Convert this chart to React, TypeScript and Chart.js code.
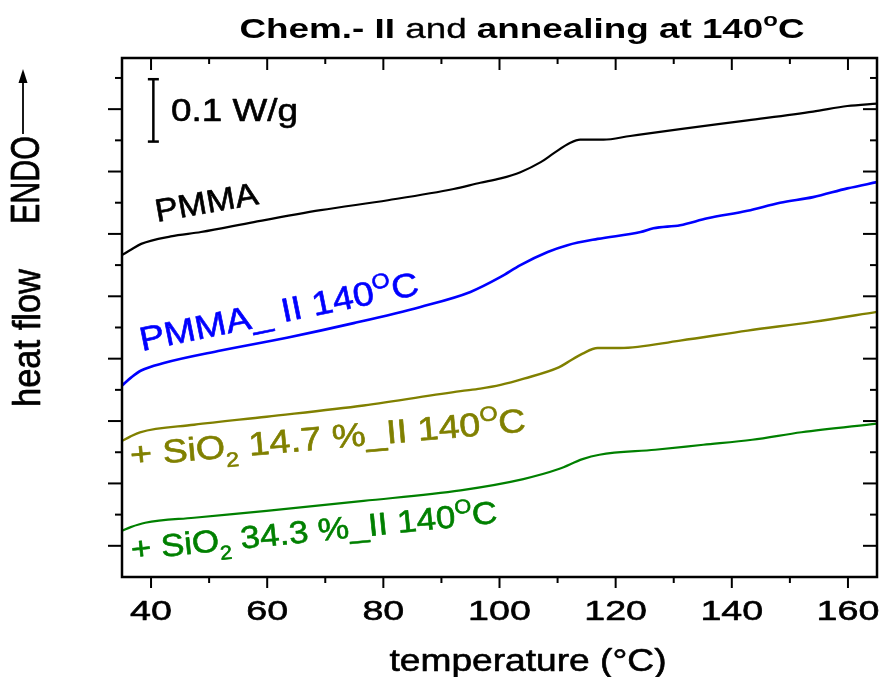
import { useEffect, useRef } from "react";
import { Chart, registerables } from "chart.js";

Chart.register(...registerables);

// DSC heat-flow traces (temperature in °C, heat flow in W/g, curves offset for clarity)
const pmmaTemp = [35, 36.6, 38.3, 43.4, 48.6, 57.7, 69.2, 80.8, 92.1, 96.7, 100.2, 103.6, 107.1, 109.3, 112.2, 113.9, 117.9, 122.5, 131.1, 142.7, 154.0, 159.9, 165];
const pmmaFlow = [0.466, 0.475, 0.484, 0.496, 0.503, 0.519, 0.538, 0.554, 0.572, 0.582, 0.589, 0.599, 0.615, 0.629, 0.646, 0.651, 0.651, 0.657, 0.668, 0.682, 0.696, 0.705, 0.709];

const pmmaIITemp = [35, 36.6, 38.3, 42.2, 52.0, 63.6, 74.9, 86.4, 95.0, 100.2, 103.6, 108.3, 111.7, 116.9, 124.3, 126.5, 131.1, 135.8, 142.7, 148.3, 154.0, 159.9, 165];
const pmmaIIFlow = [0.257, 0.270, 0.281, 0.293, 0.313, 0.334, 0.357, 0.383, 0.407, 0.431, 0.450, 0.471, 0.482, 0.492, 0.503, 0.509, 0.514, 0.525, 0.537, 0.550, 0.559, 0.573, 0.583];

const silica147Temp = [35, 36.4, 38.1, 47.4, 59.9, 76.6, 93.3, 96.7, 100.2, 104.2, 110.2, 111.7, 114.3, 116.9, 120.8, 131.1, 142.7, 154.0, 165];
const silica147Flow = [0.168, 0.175, 0.182, 0.194, 0.207, 0.225, 0.248, 0.252, 0.258, 0.268, 0.286, 0.294, 0.308, 0.317, 0.317, 0.329, 0.345, 0.359, 0.375];

const silica343Temp = [35, 36.5, 39.0, 47.4, 59.9, 76.6, 93.3, 104.1, 110.2, 114.3, 117.2, 126.8, 135.1, 143.5, 152.0, 165];
const silica343Flow = [0.024, 0.030, 0.037, 0.045, 0.056, 0.072, 0.089, 0.107, 0.123, 0.139, 0.146, 0.154, 0.162, 0.170, 0.182, 0.196];

const xMajorTicks = [40, 60, 80, 100, 120, 140, 160];
const xMinorTicks = [50, 70, 90, 110, 130, 150];
const xTickLabels = ["40", "60", "80", "100", "120", "140", "160"];
const yMajorTicks = [0, 0.1, 0.2, 0.3, 0.4, 0.5, 0.6, 0.7];
const yMinorTicks = [0.05, 0.15, 0.25, 0.35, 0.45, 0.55, 0.65, 0.75];

const scaleBarValue = 0.1; // W/g
const scaleBarTop = 0.748;
const scaleBarTemp = 40.4;

const seriesColors = ["#000000", "#0000ff", "#808000", "#008000"];

const FAMILY = '"Liberation Sans", Arial, sans-serif';

type Run = { text: string; bold?: boolean; scale?: number; rise?: number };

type TextOpts = {
  size: number;
  angle?: number;
  width?: number;
  sx?: number;
  tall?: number;
  align?: "left" | "center";
  color?: string;
  weight?: number;
};

function fontFor(run: Run, size: number) {
  const s = size * (run.scale ?? 1);
  return `${run.bold ? "bold " : ""}${s}px ${FAMILY}`;
}

function drawRuns(ctx: CanvasRenderingContext2D, runs: Run[], x: number, y: number, o: TextOpts) {
  ctx.save();
  ctx.translate(x, y);
  ctx.rotate(((o.angle ?? 0) * Math.PI) / 180);
  let natural = 0;
  for (const r of runs) {
    ctx.font = fontFor(r, o.size);
    natural += ctx.measureText(r.text).width;
  }
  const sx = o.width ? o.width / natural : o.sx ?? 1;
  ctx.scale(sx, o.tall ?? 1);
  ctx.fillStyle = o.color ?? "#000";
  ctx.strokeStyle = o.color ?? "#000";
  ctx.lineWidth = o.weight ?? 0.6;
  ctx.lineJoin = "round";
  ctx.textBaseline = "alphabetic";
  ctx.textAlign = "left";
  let cx = o.align === "center" ? -natural / 2 : 0;
  for (const r of runs) {
    ctx.font = fontFor(r, o.size);
    const ty = -(r.rise ?? 0) * o.size;
    ctx.fillText(r.text, cx, ty);
    if (!r.bold) ctx.strokeText(r.text, cx, ty);
    cx += ctx.measureText(r.text).width;
  }
  ctx.restore();
}

const framePlugin = {
  id: "dscFrame",
  afterDatasetsDraw(chart: any) {
    const ctx: CanvasRenderingContext2D = chart.ctx;
    const { left, right, top, bottom } = chart.chartArea;
    const xs = chart.scales.x;
    const ys = chart.scales.y;
    ctx.save();
    ctx.strokeStyle = "#000";
    ctx.lineCap = "butt";

    // plot frame
    ctx.lineWidth = 2.5;
    ctx.strokeRect(left, top, right - left, bottom - top);

    // tick marks: outward on bottom/left, inward on top/right
    ctx.lineWidth = 2;
    const line = (x1: number, y1: number, x2: number, y2: number) => {
      ctx.beginPath();
      ctx.moveTo(x1, y1);
      ctx.lineTo(x2, y2);
      ctx.stroke();
    };
    xMajorTicks.forEach((v) => {
      const p = xs.getPixelForValue(v);
      line(p, bottom, p, bottom + 11);
      line(p, top, p, top + 12);
    });
    xMinorTicks.forEach((v) => {
      const p = xs.getPixelForValue(v);
      line(p, bottom, p, bottom + 6);
      line(p, top, p, top + 6);
    });
    yMajorTicks.forEach((v) => {
      const p = ys.getPixelForValue(v);
      line(left - 14, p, left, p);
      line(right - 14, p, right, p);
    });
    yMinorTicks.forEach((v) => {
      const p = ys.getPixelForValue(v);
      line(left - 7, p, left, p);
      line(right - 7, p, right, p);
    });

    // x tick labels
    xMajorTicks.forEach((v, i) => {
      drawRuns(ctx, [{ text: xTickLabels[i] }], xs.getPixelForValue(v), 620, { size: 28.5, sx: 1.32, align: "center" });
    });

    // axis titles
    drawRuns(ctx, [{ text: "temperature (°C)" }], 528, 671, { size: 32, width: 277, align: "center" });
    drawRuns(ctx, [{ text: "heat flow" }], 40, 338, { size: 33, angle: -90, width: 138, tall: 1.2, align: "center" });
    drawRuns(ctx, [{ text: "ENDO" }], 39, 180, { size: 31, angle: -90, width: 88, tall: 1.3, align: "center" });

    // ENDO arrow
    ctx.lineWidth = 1.8;
    ctx.strokeStyle = "#000";
    line(23, 134, 23, 80);
    ctx.fillStyle = "#000";
    ctx.beginPath();
    ctx.moveTo(23, 69);
    ctx.lineTo(18.5, 83);
    ctx.lineTo(27.5, 83);
    ctx.closePath();
    ctx.fill();

    // title
    drawRuns(
      ctx,
      [
        { text: "Chem.- II", bold: true },
        { text: " and " },
        { text: "annealing at 140", bold: true },
        { text: "o", bold: true, scale: 0.65, rise: 0.42 },
        { text: "C", bold: true },
      ],
      522,
      38,
      { size: 28.5, width: 565, align: "center", weight: 0.3 }
    );

    // 0.1 W/g scale bar
    const bx = xs.getPixelForValue(scaleBarTemp);
    const by1 = ys.getPixelForValue(scaleBarTop);
    const by2 = ys.getPixelForValue(scaleBarTop - scaleBarValue);
    ctx.lineWidth = 2.5;
    ctx.strokeStyle = "#000";
    line(bx, by1, bx, by2);
    line(bx - 5.5, by1, bx + 5.5, by1);
    line(bx - 5.5, by2, bx + 5.5, by2);
    drawRuns(ctx, [{ text: "0.1 W/g" }], 171, 121, { size: 31, width: 127 });

    // curve labels
    drawRuns(ctx, [{ text: "PMMA" }], 157, 222, { size: 32, angle: -10, width: 104, color: seriesColors[0] });
    drawRuns(
      ctx,
      [{ text: "PMMA_ II 140" }, { text: "O", scale: 0.62, rise: 0.42 }, { text: "C" }],
      142,
      351,
      { size: 33.5, angle: -11.5, width: 284, color: seriesColors[1] }
    );
    drawRuns(
      ctx,
      [
        { text: "+ SiO" },
        { text: "2", scale: 0.62, rise: -0.28 },
        { text: " 14.7 %_II 140" },
        { text: "O", scale: 0.62, rise: 0.42 },
        { text: "C" },
      ],
      131,
      466,
      { size: 33, angle: -5, width: 397, color: seriesColors[2] }
    );
    drawRuns(
      ctx,
      [
        { text: "+ SiO" },
        { text: "2", scale: 0.62, rise: -0.28 },
        { text: " 34.3 %_II 140" },
        { text: "O", scale: 0.62, rise: 0.42 },
        { text: "C" },
      ],
      132,
      560,
      { size: 31.5, angle: -5.8, width: 368, color: seriesColors[3] }
    );

    ctx.restore();
  },
};

function toPoints(xs: number[], ys: number[]) {
  return xs.map((x, i) => ({ x, y: ys[i] }));
}

export default function App() {
  const canvasRef = useRef<HTMLCanvasElement | null>(null);

  useEffect(() => {
    const canvas = canvasRef.current;
    if (!canvas) return;
    const chart = new Chart(canvas, {
      type: "line",
      data: {
        datasets: [
          { label: "PMMA", data: toPoints(pmmaTemp, pmmaFlow), borderColor: seriesColors[0], borderWidth: 2.2 },
          { label: "PMMA_ II 140°C", data: toPoints(pmmaIITemp, pmmaIIFlow), borderColor: seriesColors[1], borderWidth: 2.6 },
          { label: "+ SiO2 14.7 %_II 140°C", data: toPoints(silica147Temp, silica147Flow), borderColor: seriesColors[2], borderWidth: 2.4 },
          { label: "+ SiO2 34.3 %_II 140°C", data: toPoints(silica343Temp, silica343Flow), borderColor: seriesColors[3], borderWidth: 2.2 },
        ],
      },
      options: {
        animation: false,
        responsive: false,
        maintainAspectRatio: false,
        layout: { padding: { left: 122, right: 4, top: 58, bottom: 100 } },
        elements: {
          point: { radius: 0 },
          line: { cubicInterpolationMode: "monotone", fill: false },
        },
        plugins: { legend: { display: false }, tooltip: { enabled: false }, title: { display: false } },
        scales: {
          x: { type: "linear", min: 35, max: 165, display: false },
          y: { type: "linear", min: -0.05, max: 0.782, display: false },
        },
      },
      plugins: [framePlugin],
    });
    return () => chart.destroy();
  }, []);

  return (
    <div style={{ position: "absolute", left: 0, top: 0, width: 881, height: 677, background: "#fff" }}>
      <canvas ref={canvasRef} width={881} height={677} style={{ display: "block", width: 881, height: 677 }} />
    </div>
  );
}
